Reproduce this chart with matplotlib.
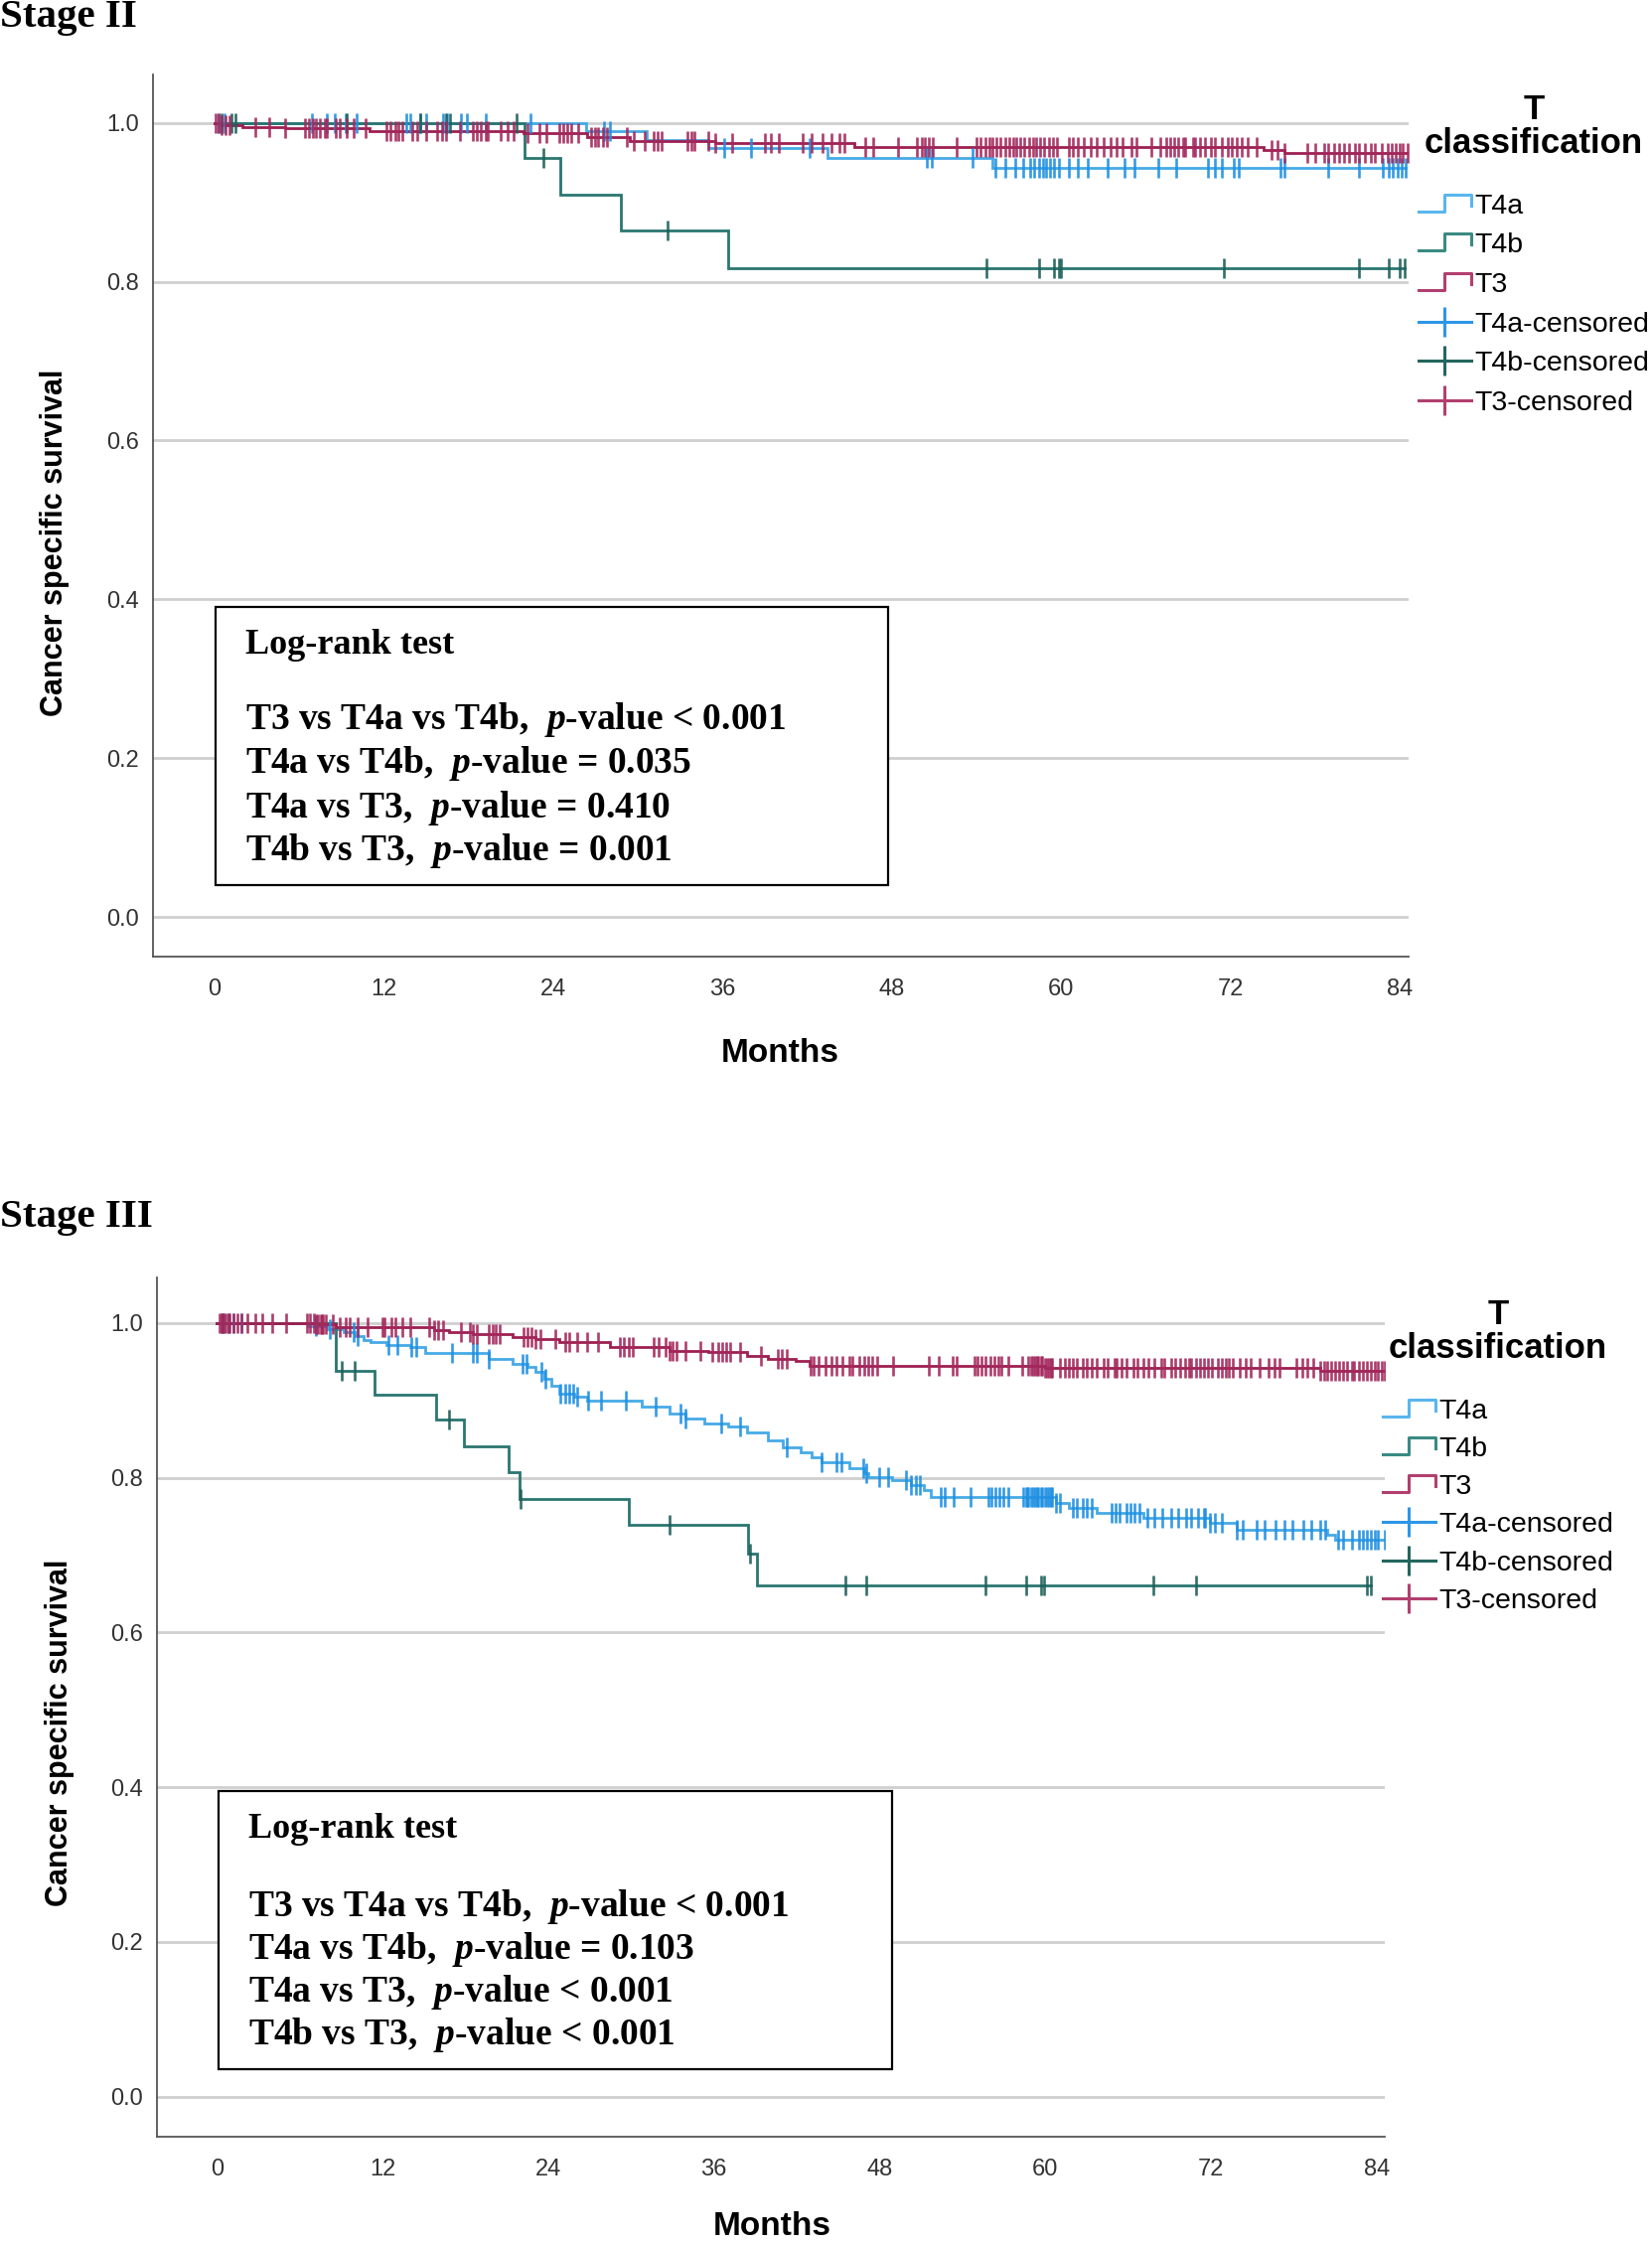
import numpy as np
import matplotlib
matplotlib.use("Agg")
import matplotlib.pyplot as plt
from matplotlib.lines import Line2D
from matplotlib.patches import Rectangle
from matplotlib.legend_handler import HandlerBase

plt.rcParams['font.family'] = ['Liberation Sans', 'DejaVu Sans']
plt.rcParams['mathtext.fontset'] = 'custom'
plt.rcParams['mathtext.rm'] = 'Liberation Serif:bold'
plt.rcParams['mathtext.it'] = 'Liberation Serif:italic:bold'

# ---------------- data : Stage II ----------------
s2_t4a_times = [26.3, 30.6, 35.0, 43.4, 55.1]
s2_t4a_surv = [0.990, 0.979, 0.968, 0.956, 0.944]
s2_t4a_cens = [0.3, 0.7, 6.9, 8.0, 8.5, 9.3, 10.1, 13.6, 13.9, 14.6, 15.0, 16.2, 16.5, 17.5, 17.9,
               19.2, 22.4, 27.6, 28.0, 36.1, 38.0, 42.2, 50.5, 50.8, 53.7, 55.3, 56.0, 56.7, 57.3,
               57.8, 58.1, 58.4, 58.7, 58.9, 59.2, 59.5, 59.8, 60.5, 61.2, 61.9, 63.3, 64.5, 65.2,
               66.9, 68.1, 70.4, 70.9, 71.4, 72.2, 72.6, 75.5, 75.8, 78.9, 81.1, 82.8, 83.2, 83.5,
               83.8, 84.1, 84.4]

s2_t4b_times = [22.0, 24.5, 28.8, 36.4]
s2_t4b_surv = [0.956, 0.910, 0.865, 0.8175]
s2_t4b_cens = [0.5, 1.2, 1.5, 9.4, 14.6, 16.4, 16.7, 21.4, 23.3, 32.1, 54.7, 58.4, 59.5, 59.8,
               60.0, 71.5, 81.1, 83.2, 84.0, 84.3]

s2_t3_times = [0.5, 2.0, 5.0, 11.0, 21.9, 26.4, 29.4, 35.5, 45.3, 74.3, 75.8]
s2_t3_surv = [0.997, 0.995, 0.993, 0.990, 0.9875, 0.982, 0.977, 0.975, 0.970, 0.966, 0.9625]
s2_t3_cens = [0.1, 0.3, 0.5, 0.8, 1.1, 2.9, 3.9, 5.0, 6.4, 6.7, 7.0, 7.2, 7.5, 7.8, 8.0, 8.6, 8.9,
              9.4, 9.9, 10.7, 12.2, 12.5, 12.8, 13.0, 13.3, 14.0, 14.4, 15.0, 15.8, 16.1, 16.4,
              17.4, 18.3, 18.6, 18.9, 19.2, 19.4, 20.3, 20.8, 21.2, 22.2, 23.0, 23.5, 24.4, 24.7,
              25.0, 25.3, 25.8, 26.7, 27.0, 27.2, 27.5, 27.8, 29.2, 29.7, 30.5, 31.1, 31.4, 31.7,
              33.5, 33.8, 34.0, 35.0, 35.5, 36.7, 39.0, 39.4, 40.0, 41.7, 42.3, 43.1, 43.7, 44.3,
              44.6, 46.1, 46.7, 48.4, 49.8, 50.1, 50.3, 50.6, 50.9, 52.6, 54.0, 54.3, 54.6, 54.9,
              55.1, 55.4, 55.7, 56.0, 56.3, 56.6, 56.8, 57.1, 57.4, 57.7, 58.0, 58.2, 58.5, 58.8,
              59.1, 59.4, 59.7, 60.5, 60.8, 61.2, 61.6, 62.1, 62.5, 63.0, 63.5, 63.9, 64.3, 65.0,
              65.3, 66.4, 67.0, 67.4, 67.7, 68.0, 68.3, 68.6, 68.8, 69.3, 69.5, 69.8, 70.2, 70.6,
              70.9, 71.4, 71.8, 72.1, 72.4, 72.8, 73.2, 73.8, 74.9, 75.3, 75.8, 77.4, 78.0, 78.6,
              78.9, 79.3, 79.7, 80.0, 80.4, 80.8, 81.1, 81.5, 81.9, 82.2, 82.7, 83.1, 83.4, 83.7,
              84.0, 84.2, 84.5]

# ---------------- data : Stage III ----------------
s3_t4a_times = [6.6, 8.0, 9.2, 10.0, 10.6, 11.1, 12.3, 14.0, 15.1, 19.7, 21.4, 22.5, 23.1, 23.7,
                24.2, 24.8, 25.9, 26.8, 30.8, 32.8, 33.9, 35.3, 37.0, 38.4, 39.9, 41.0, 42.3,
                43.1, 43.8, 45.8, 46.9, 47.2, 48.9, 50.3, 51.2, 51.7, 60.8, 61.7, 63.7, 67.1,
                71.9, 73.9, 80.4, 81.0]
s3_t4a_surv = [0.9966, 0.9923, 0.988, 0.9837, 0.978, 0.975, 0.972, 0.9687, 0.9614, 0.9536,
               0.9472, 0.9429, 0.9365, 0.9279, 0.9193, 0.9086, 0.9043, 0.900, 0.8914, 0.8828,
               0.8764, 0.870, 0.8657, 0.8592, 0.8485, 0.840, 0.833, 0.827, 0.8206, 0.812,
               0.8056, 0.8013, 0.797, 0.7906, 0.7841, 0.7755, 0.767, 0.7605, 0.7541, 0.7476,
               0.7412, 0.7326, 0.7262, 0.7197]
s3_t4a_cens = [0.4, 0.8, 1.2, 1.8, 7.2, 8.2, 9.9, 10.2, 12.4, 13.1, 14.1, 14.4, 17.0, 18.5, 18.8,
               19.7, 22.1, 22.4, 23.5, 23.8, 24.9, 25.2, 25.5, 25.8, 26.1, 26.9, 27.8, 29.6, 31.8,
               33.6, 33.9, 36.5, 37.9, 41.3, 43.8, 44.9, 45.2, 46.8, 47.0, 48.0, 48.6, 49.9, 50.3,
               50.6, 50.9, 52.4, 52.7, 53.4, 54.6, 55.9, 56.1, 56.4, 56.7, 57.0, 57.3, 58.4, 58.6,
               58.7, 58.8, 59.0, 59.1, 59.3, 59.4, 59.5, 59.7, 59.8, 60.0, 60.1, 60.3, 60.4, 60.5,
               60.8, 61.1, 62.0, 62.3, 62.7, 63.0, 63.4, 64.8, 65.1, 65.4, 65.9, 66.2, 66.5, 66.8,
               67.4, 67.9, 68.5, 69.1, 69.6, 70.2, 70.6, 71.1, 71.5, 71.6, 71.9, 72.3, 72.8, 73.9,
               74.3, 75.3, 75.9, 76.7, 77.3, 77.9, 78.7, 79.3, 79.9, 80.3, 81.2, 81.6, 82.2, 82.7,
               83.0, 83.3, 83.6, 83.9, 84.1, 84.6]

s3_t4b_times = [8.6, 11.4, 15.9, 17.9, 21.1, 21.9, 29.8, 38.5, 39.1]
s3_t4b_surv = [0.9386, 0.9069, 0.8751, 0.8408, 0.8069, 0.773, 0.7386, 0.7017, 0.661]
s3_t4b_cens = [0.4, 9.0, 10.0, 16.8, 22.0, 32.8, 38.6, 45.5, 47.0, 55.7, 58.6, 59.7, 59.9, 67.8,
               70.9, 83.3, 83.6]

s3_t3_times = [7.2, 8.6, 11.4, 15.7, 16.8, 18.5, 21.4, 23.1, 24.8, 28.5, 32.8, 35.6, 38.4, 39.9,
               41.9, 42.9, 60.0, 79.9]
s3_t3_surv = [0.998, 0.9953, 0.9944, 0.991, 0.988, 0.9858, 0.9815, 0.979, 0.975, 0.9687, 0.9644,
              0.9622, 0.958, 0.9536, 0.9506, 0.945, 0.942, 0.938]
s3_t3_cens = [0.2, 0.35, 0.5, 0.6, 0.8, 0.9, 1.2, 1.5, 1.8, 2.2, 2.8, 3.3, 4.0, 5.0, 6.5, 6.7, 7.0,
              7.2, 7.3, 7.5, 7.6, 7.7, 7.9, 8.4, 8.9, 9.3, 9.6, 10.2, 10.9, 12.0, 12.1, 12.6, 12.9,
              13.4, 14.0, 15.4, 15.7, 16.0, 16.4, 17.7, 18.3, 18.5, 18.8, 19.7, 20.0, 20.2, 20.5,
              22.2, 22.5, 22.8, 23.1, 23.4, 24.5, 25.2, 25.5, 26.1, 26.8, 27.6, 29.2, 29.5, 29.8,
              30.1, 31.6, 32.0, 32.5, 32.8, 33.0, 33.3, 33.9, 35.0, 35.9, 36.3, 36.6, 36.9, 37.2,
              37.9, 39.4, 40.6, 40.9, 41.3, 43.0, 43.2, 43.6, 44.1, 44.5, 44.9, 45.3, 45.8, 46.0,
              46.5, 46.9, 47.2, 47.5, 47.8, 49.0, 51.6, 52.3, 53.3, 53.6, 54.9, 55.1, 55.4, 55.7,
              56.0, 56.3, 56.6, 56.8, 57.3, 58.3, 58.8, 59.0, 59.1, 59.3, 59.4, 59.5, 59.7, 59.8,
              60.0, 60.1, 60.3, 60.4, 60.5, 61.1, 61.4, 61.7, 62.0, 62.3, 62.7, 63.0, 63.4, 63.7,
              64.2, 64.5, 65.0, 65.2, 65.5, 65.9, 66.4, 66.7, 67.1, 67.5, 67.9, 68.4, 68.6, 69.1,
              69.4, 69.8, 70.1, 70.4, 70.6, 70.9, 71.2, 71.5, 71.8, 72.1, 72.5, 72.8, 73.1, 73.3,
              73.6, 74.1, 74.5, 74.9, 75.5, 76.2, 76.6, 77.0, 78.2, 78.6, 79.0, 79.4, 79.9, 80.2,
              80.4, 80.7, 81.0, 81.3, 81.6, 81.9, 82.2, 82.4, 82.7, 83.0, 83.3, 83.6, 83.9, 84.1,
              84.4, 84.6]

x_ticks = [0, 12, 24, 36, 48, 60, 72, 84]
y_ticks = [0.0, 0.2, 0.4, 0.6, 0.8, 1.0]
groups = ["T4a", "T4b", "T3"]

s2_logrank = ["T3 vs T4a vs T4b,  $p$-value < 0.001",
              "T4a vs T4b,  $p$-value = 0.035",
              "T4a vs T3,  $p$-value = 0.410",
              "T4b vs T3,  $p$-value = 0.001"]
s3_logrank = ["T3 vs T4a vs T4b,  $p$-value < 0.001",
              "T4a vs T4b,  $p$-value = 0.103",
              "T4a vs T3,  $p$-value < 0.001",
              "T4b vs T3,  $p$-value < 0.001"]

# ---------------- styles ----------------
line_col = {"T4a": "#46aae6", "T4b": "#2a7670", "T3": "#9e1f52"}
cens_col = {"T4a": "#1f8fe2", "T4b": "#1d5f59", "T3": "#a3285c"}
leg_line_col = {"T4a": "#5ab6ee", "T4b": "#3a8a82", "T3": "#b23f6f"}
leg_cens_col = {"T4a": "#2c96e6", "T4b": "#23665f", "T3": "#b23f6f"}

W, H = 1663, 2260
fig = plt.figure(figsize=(W / 100, H / 100), dpi=100)


def km_draw(ax, name, times, surv, cens):
    t_end = max(max(cens), max(times))
    t = np.concatenate([[0.0], times, [t_end]])
    s = np.concatenate([[1.0], surv, [surv[-1]]])
    ax.step(t, s, where='post', color=line_col[name], lw=2.0, zorder=3, solid_joinstyle='miter')
    c = np.asarray(cens)
    idx = np.searchsorted(np.asarray(times), c, side='right')
    s_full = np.concatenate([[1.0], surv])
    ax.plot(c, s_full[idx], ls='none', marker='|', markersize=14, mew=1.9,
            color=cens_col[name], alpha=0.9, zorder=4)


class StepProxy(Line2D):
    pass


class StepHandler(HandlerBase):
    def create_artists(self, legend, orig_handle, xdescent, ydescent, width, height, fontsize, trans):
        x0, y0 = -xdescent, -ydescent
        xs = [x0, x0 + 0.5 * width, x0 + 0.5 * width, x0 + width, x0 + width]
        ys = [y0 + 0.1 * height, y0 + 0.1 * height, y0 + 0.95 * height,
              y0 + 0.95 * height, y0 + 0.4 * height]
        ln = Line2D(xs, ys, color=orig_handle.get_color(), lw=orig_handle.get_linewidth())
        ln.set_transform(trans)
        return [ln]


def panel(rect, xlim, ylim, data, logrank, box, text_x, text_ys, leg_anchor, leg_spacing):
    ax = fig.add_axes(rect)
    ax.set_xlim(*xlim)
    ax.set_ylim(*ylim)
    for sp in ['top', 'right']:
        ax.spines[sp].set_visible(False)
    for sp in ['left', 'bottom']:
        ax.spines[sp].set_color('#555555')
        ax.spines[sp].set_linewidth(1.3)
    ax.set_xticks(x_ticks)
    ax.set_yticks(y_ticks)
    ax.set_yticklabels([f"{v:.1f}" for v in y_ticks])
    ax.tick_params(axis='both', length=0, labelsize=17, colors='#333333')
    ax.tick_params(axis='y', pad=10)
    ax.tick_params(axis='x', pad=16)
    for v in y_ticks:
        ax.axhline(v, color='#cfcfcf', lw=2.0, zorder=1)
    for name, (times, surv, cens) in zip(groups, data):
        km_draw(ax, name, times, surv, cens)
    # log-rank box
    ax.add_patch(Rectangle((box[0], box[1]), box[2] - box[0], box[3] - box[1],
                           fill=True, facecolor='white', edgecolor='black', lw=1.6, zorder=5))
    ax.text(text_x, text_ys[0], "Log-rank test", family='Liberation Serif', weight='bold',
            fontsize=26, va='center', ha='left', zorder=6)
    for ln, yy in zip(logrank, text_ys[1:]):
        ax.text(text_x, yy, ln, family='Liberation Serif', weight='bold',
                fontsize=27, va='center', ha='left', zorder=6)
    # legend
    handles = [StepProxy([], [], color=leg_line_col[g], lw=2.2) for g in groups]
    handles += [Line2D([], [], color=leg_cens_col[g], lw=2.2, marker='|', markersize=22, mew=2.2)
                for g in groups]
    labels = groups + [g + "-censored" for g in groups]
    leg = fig.legend(handles, labels, loc='upper left', bbox_to_anchor=leg_anchor,
                     bbox_transform=fig.transFigure, frameon=False, numpoints=1,
                     handler_map={StepProxy: StepHandler()},
                     title="T\nclassification", prop={'size': 20.5},
                     title_fontproperties={'size': 25, 'weight': 'bold'},
                     handlelength=1.85, handletextpad=0.12, labelspacing=leg_spacing,
                     borderpad=0, borderaxespad=0)
    leg.get_title().set_multialignment('center')
    leg.get_title().set_linespacing(1.05)
    leg._legend_box.sep = 24
    return ax


ax1 = panel([154 / W, 1 - 963 / H, (1418 - 154) / W, (963 - 75) / H],
            (-4.35, 84.6), (-0.05, 1.061),
            [(s2_t4a_times, s2_t4a_surv, s2_t4a_cens),
             (s2_t4b_times, s2_t4b_surv, s2_t4b_cens),
             (s2_t3_times, s2_t3_surv, s2_t3_cens)],
            s2_logrank, (0.1, 0.0396, 47.76, 0.391), 2.2,
            [0.342, 0.2486, 0.1928, 0.137, 0.0829],
            (1428 / W, 1 - 94 / H), 0.48)

ax2 = panel([158 / W, 1 - 2151 / H, (1394 - 158) / W, (2151 - 1286) / H],
            (-4.35, 84.6), (-0.052, 1.059),
            [(s3_t4a_times, s3_t4a_surv, s3_t4a_cens),
             (s3_t4b_times, s3_t4b_surv, s3_t4b_cens),
             (s3_t3_times, s3_t3_surv, s3_t3_cens)],
            s3_logrank, (0.1, 0.0351, 48.87, 0.3956), 2.28,
            [0.3457, 0.2458, 0.1904, 0.1349, 0.0795],
            (1392 / W, 1 - 1307 / H), 0.43)

# titles and axis labels
fig.text(0.0, 1 - 18 / H, "Stage II", family='Liberation Serif', weight='bold', fontsize=29.5,
         ha='left', va='center')
fig.text(0.0, 1 - 1226 / H, "Stage III", family='Liberation Serif', weight='bold', fontsize=29.5,
         ha='left', va='center')
fig.text(785 / W, 1 - 1061 / H, "Months", weight='bold', fontsize=24, ha='center', va='center')
fig.text(777 / W, 1 - 2241 / H, "Months", weight='bold', fontsize=24, ha='center', va='center')
fig.text(55 / W, 1 - 546 / H, "Cancer specific survival", weight='bold', fontsize=22,
         rotation=90, ha='center', va='center')
fig.text(60 / W, 1 - 1744 / H, "Cancer specific survival", weight='bold', fontsize=22,
         rotation=90, ha='center', va='center')

fig.savefig("out.png", dpi=100, facecolor='white')
